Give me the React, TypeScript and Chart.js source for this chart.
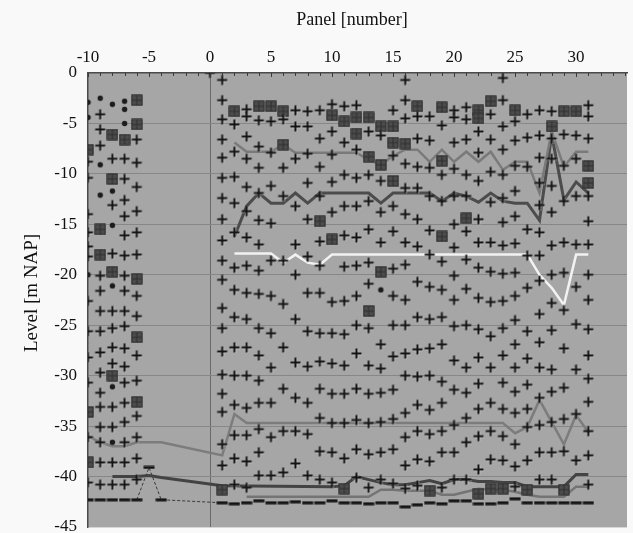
import React, { useEffect, useRef } from 'react';
import { Chart, registerables } from 'chart.js';
Chart.register(...registerables);

// ---------------- DATA ----------------
const xTickLabels = [-10, -5, 0, 5, 10, 15, 20, 25, 30];
const yTickLabels = [0, -5, -10, -15, -20, -25, -30, -35, -40, -45];

// plus markers: [panel, levels]
const crossCols: [number, number[]][] = [
  [-10, [-8.8, -10.4, -14.0, -15.8, -17.2, -18.2, -22.6, -25.6, -28.2, -30.7, -36.1, -40.6]],
  [-9, [-4.1, -5.6, -7.2, -20.1, -21.6, -23.6, -25.6, -27.7, -29.7, -31.7, -33.1, -35.1, -36.6, -38.6, -40.8]],
  [-8, [-8.5, -13.1, -17.9, -23.6, -25.3, -27.2, -28.8, -33.1, -35.1, -38.6, -40.8]],
  [-7, [-8.5, -10.5, -12.6, -14.2, -16.1, -18.1, -20.1, -21.6, -23.6, -25.1, -27.3, -29.1, -30.7, -32.7, -34.6, -36.6, -38.6, -40.8]],
  [-6, [-6.6, -8.9, -11.3, -13.7, -15.8, -18.0, -22.1, -24.1, -28.0, -30.5, -34.0, -36.1, -38.2, -40.3]],
  [0, [0]],
  [1, [-0.7, -2.7, -4.6, -6.6, -8.4, -10.4, -12.4, -14.5, -16.6, -18.6, -20.5, -23.3, -25.3, -27.6, -29.9, -31.8, -33.6, -36.8, -38.9]],
  [2, [-5.1, -7.8, -10.3, -12.9, -15.8, -19.3, -21.5, -24.2, -27.2, -30.0, -32.9, -35.9, -38.2, -40.8]],
  [3, [-3.6, -4.3, -6.3, -8.5, -11.3, -13.7, -16.3, -19.1, -21.8, -24.4, -27.2, -30.0, -33.2, -35.9, -38.5, -41.1]],
  [4, [-4.7, -7.3, -9.4, -11.9, -14.6, -17.0, -19.6, -21.9, -25.3, -28.0, -30.5, -32.7, -35.3, -37.6, -39.9]],
  [5, [-4.8, -7.9, -11.2, -14.9, -18.6, -22.1, -25.8, -29.2, -32.7, -36.1, -39.9]],
  [6, [-4.6, -9.4, -12.2, -18.6, -22.9, -27.2, -31.3, -35.5, -39.6]],
  [7, [-3.7, -5.3, -8.5, -13.2, -17.0, -20.0, -24.4, -28.7, -32.2, -35.5, -38.7]],
  [8, [-3.8, -5.3, -8.0, -10.9, -14.5, -18.2, -21.8, -25.6, -29.1, -32.7, -35.8, -39.9]],
  [9, [-3.7, -6.5, -9.3, -12.2, -16.7, -19.1, -21.8, -25.8, -28.6, -31.3, -34.2, -37.5, -40.3]],
  [10, [-3.1, -5.8, -8.1, -10.8, -13.8, -22.7, -25.8, -28.8, -31.8, -34.7, -37.6, -40.6]],
  [11, [-3.3, -6.9, -10.1, -13.2, -16.1, -19.2, -22.6, -25.9, -29.0, -31.8, -34.7, -38.2]],
  [12, [-3.2, -7.6, -10.4, -13.2, -16.3, -19.1, -22.1, -25.0, -27.8, -31.3, -34.4, -37.3, -40.1]],
  [13, [-5.8, -10.1, -12.7, -15.5, -18.8, -20.9, -25.3, -29.0, -31.8, -34.7, -37.8, -41.1]],
  [14, [-6.2, -10.7, -13.8, -16.8, -26.9, -29.3, -31.7, -34.6, -37.6, -40.3]],
  [15, [-3.7, -8.2, -13.2, -15.7, -19.4, -22.1, -25.0, -28.1, -31.4, -34.3, -37.3, -40.7]],
  [16, [-0.7, -2.7, -4.5, -9.0, -11.4, -14.0, -16.8, -19.0, -22.5, -25.0, -27.8, -30.0, -33.7, -36.1, -38.9, -41.2]],
  [17, [-4.3, -6.5, -9.3, -11.4, -14.5, -17.2, -20.7, -24.2, -27.4, -30.1, -32.9, -35.5, -38.3, -40.9]],
  [18, [-4.3, -6.7, -9.4, -12.2, -15.6, -18.0, -21.2, -24.4, -27.3, -30.0, -33.4, -35.8, -38.5]],
  [19, [-5.2, -10.1, -12.7, -18.7, -21.5, -24.2, -26.9, -30.6, -32.7, -35.5, -37.6, -41.1]],
  [20, [-3.7, -4.4, -6.9, -9.5, -12.2, -15.0, -17.3, -20.1, -22.5, -25.1, -28.5, -31.4, -34.9, -37.6, -40.3]],
  [21, [-3.4, -4.6, -6.6, -10.1, -12.2, -15.7, -18.5, -21.4, -25.0, -29.2, -31.7, -34.2, -36.6, -40.3]],
  [22, [-5.8, -7.9, -10.7, -14.5, -16.8, -19.3, -22.3, -25.4, -28.2, -30.8, -33.3, -36.0, -39.3]],
  [23, [-4.1, -6.6, -9.8, -12.8, -16.8, -19.7, -22.7, -26.1, -29.2, -32.7, -35.5, -38.3]],
  [24, [-0.5, -2.7, -5.3, -7.6, -10.1, -12.4, -14.8, -17.1, -19.9, -22.6, -25.3, -28.0, -30.7, -33.3, -36.0, -38.4]],
  [25, [-4.8, -6.7, -9.2, -11.7, -14.2, -16.9, -19.8, -22.1, -24.5, -26.9, -29.2, -31.6, -33.7, -36.8, -39.0, -41.0]],
  [26, [-4.1, -6.4, -9.3, -15.5, -18.1, -21.3, -25.6, -28.3, -30.9, -33.3, -35.1, -38.4]],
  [27, [-3.7, -6.2, -8.4, -10.9, -13.1, -15.8, -18.1, -20.6, -23.9, -26.7, -29.2, -32.2, -34.9, -37.6, -40.3]],
  [28, [-3.8, -6.5, -8.5, -11.2, -13.8, -17.1, -20.0, -22.8, -25.5, -29.4, -31.6, -34.6, -37.6, -40.3]],
  [29, [-6.1, -9.2, -12.7, -16.8, -19.8, -23.5, -27.3, -31.2, -34.3, -37.5]],
  [30, [-6.2, -8.5, -12.2, -17.0, -21.2, -24.9, -29.4, -33.8, -38.4]],
  [31, [-3.2, -4.3, -6.5, -12.2, -14.7, -17.0, -20.0, -22.5, -25.4, -28.0, -30.3, -32.6, -35.5, -37.9, -40.8]],
];

// square markers
const squareCols: [number, number[]][] = [
  [-10, [-7.6, -33.6, -38.6]],
  [-9, [-15.5, -18.0]],
  [-8, [-6.1, -10.5, -19.7, -30.0]],
  [-7, [-6.6]],
  [-6, [-2.7, -5.1, -20.4, -26.2, -32.6]],
  [1, [-41.3]],
  [2, [-3.8]],
  [4, [-3.3]],
  [5, [-3.3]],
  [6, [-3.8, -7.1]],
  [9, [-14.7]],
  [10, [-4.2, -16.5]],
  [11, [-4.8, -41.2]],
  [12, [-4.4, -6.0]],
  [13, [-4.4, -8.3, -23.6]],
  [14, [-5.3, -9.1, -19.7]],
  [15, [-5.3, -6.9, -10.7]],
  [16, [-7.0]],
  [17, [-3.3]],
  [18, [-41.4]],
  [19, [-3.4, -8.7, -16.2]],
  [21, [-14.4]],
  [22, [-3.7, -4.5, -41.7]],
  [23, [-2.8, -41.2]],
  [24, [-41.2]],
  [25, [-3.7]],
  [26, [-41.3]],
  [28, [-5.3]],
  [29, [-3.8, -41.3]],
  [30, [-3.8]],
  [31, [-9.2, -10.9]],
];

// small dots
const dotCols: [number, number[]][] = [
  [-10, [-2.9, -4.4, -20.0]],
  [-9, [-2.5, -9.1, -12.1]],
  [-8, [-3.1, -11.7, -15.1, -21.1, -31.1, -36.6]],
  [-7, [-2.8, -3.6, -5.0]],
  [14, [-21.5]],
];

// dash markers (bottom level)
const dashPanels = [-10, -9, -8, -7, -6, -5, -4, 1, 2, 3, 4, 5, 6, 7, 8, 9, 10, 11, 12, 13, 14, 15, 16, 17, 18, 19, 20, 21, 22, 23, 24, 25, 26, 27, 28, 29, 30, 31];
const dashLevels = [-42.3, -42.3, -42.3, -42.3, -42.3, -39.1, -42.3, -42.6, -42.7, -42.6, -42.4, -42.6, -42.6, -42.5, -42.6, -42.6, -42.4, -42.6, -42.6, -42.7, -42.6, -42.6, -43.0, -42.8, -42.6, -42.7, -42.4, -42.4, -42.7, -42.7, -42.6, -42.2, -42.6, -42.6, -42.6, -42.6, -42.6, -42.6];

// dashed connector
const connector: [number, number][] = [[-6, -42.3], [-5, -39.1], [-4, -42.3], [1, -42.6]];

// lines
const lineUpperGray: [number, number][] = [
  [2, -6.9], [3, -7.8], [4, -7.8], [5, -7.8], [6, -7.1], [7, -7.9], [8, -7.9], [9, -7.9], [10, -7.9], [11, -7.9], [12, -7.9],
  [13, -8.6], [14, -9.1], [15, -8.2], [16, -7.6], [17, -7.6], [18, -8.8], [19, -7.6], [20, -8.8], [21, -7.8], [22, -8.8],
  [23, -7.8], [24, -9.6], [25, -8.8], [26, -8.8], [27, -11.9], [28, -5.8], [29, -9.3], [30, -7.8], [31, -7.8],
];
const lineUpperDark: [number, number][] = [
  [2, -16.2], [3, -13.2], [4, -11.9], [5, -12.9], [6, -12.9], [7, -11.9], [8, -12.9], [9, -11.9], [10, -11.9], [11, -11.9],
  [12, -11.9], [13, -11.9], [14, -12.9], [15, -11.9], [16, -11.9], [17, -11.9], [18, -11.9], [19, -12.7], [20, -11.9],
  [21, -12.2], [22, -12.8], [23, -11.9], [24, -12.7], [25, -12.9], [26, -12.9], [27, -14.6], [28, -6.1], [29, -12.6], [30, -10.8], [31, -11.9],
];
const lineWhite: [number, number][] = [
  [2, -17.9], [5, -17.9], [6, -18.8], [7, -18.0], [8, -18.8], [9, -19.0], [10, -18.0], [26, -18.0], [27, -20.0], [28, -21.3], [29, -23.0], [30, -18.0], [31, -18.0],
];
const lineMidGray: [number, number][] = [
  [-10, -36.0], [-9, -36.6], [-8, -37.0], [-7, -37.0], [-6, -36.6], [-4, -36.6], [1, -37.9], [2, -33.8], [3, -34.7],
  [24, -34.7], [25, -35.7], [26, -35.1], [27, -32.4], [28, -34.6], [29, -36.8], [30, -33.9], [31, -35.6],
];
const lineLowerDark: [number, number][] = [
  [-8, -40.0], [-6, -40.0], [-5, -39.9], [-4, -40.1], [1, -40.9], [10, -41.0], [11, -40.9], [12, -40.0], [13, -40.3], [14, -40.6],
  [15, -40.8], [16, -40.8], [17, -40.6], [18, -40.4], [19, -40.7], [20, -40.3], [21, -40.3], [22, -40.5], [23, -40.5],
  [24, -40.6], [25, -40.6], [26, -41.0], [27, -41.0], [28, -41.0], [29, -41.0], [30, -39.8], [31, -39.8],
];
const lineLowerGray: [number, number][] = [
  [3, -42.0], [13, -42.0], [14, -41.3], [15, -41.3], [16, -41.4], [17, -41.4], [18, -41.4], [19, -41.8], [20, -41.8],
  [21, -41.5], [22, -41.2], [23, -41.3], [24, -41.3], [25, -41.5], [26, -41.8], [27, -42.0], [28, -42.0], [29, -42.0], [30, -41.0], [31, -41.0],
];

// ---------------- HELPERS ----------------
const colPts = (cols: [number, number[]][]) => cols.flatMap(([x, ys]) => ys.map((y) => ({ x, y })));
const pairPts = (arr: [number, number][]) => arr.map(([x, y]) => ({ x, y }));

function mk(w: number, h: number, draw: (g: CanvasRenderingContext2D) => void) {
  const c = document.createElement('canvas');
  c.width = w; c.height = h;
  draw(c.getContext('2d')!);
  return c;
}

const SERIF = '"Liberation Serif", "Times New Roman", serif';

export default function App() {
  const ref = useRef<HTMLCanvasElement>(null);
  useEffect(() => {
    const plus = mk(13, 13, (g) => {
      g.lineCap = 'butt';
      g.strokeStyle = 'rgba(228,228,228,0.55)';
      g.lineWidth = 1.6;
      g.beginPath(); g.moveTo(2, 7.5); g.lineTo(12, 7.5); g.moveTo(7.5, 2); g.lineTo(7.5, 12); g.stroke();
      g.strokeStyle = '#141414';
      g.lineWidth = 2;
      g.beginPath(); g.moveTo(1.5, 6.5); g.lineTo(11.5, 6.5); g.moveTo(6.5, 1.5); g.lineTo(6.5, 11.5); g.stroke();
    });
    const square = mk(12, 12, (g) => {
      g.fillStyle = '#4c4c4c'; g.fillRect(0.5, 0.5, 11, 11);
      g.strokeStyle = '#2e2e2e'; g.lineWidth = 1;
      g.strokeRect(1, 1, 10, 10);
      g.beginPath(); g.moveTo(6, 1); g.lineTo(6, 11); g.moveTo(1, 6); g.lineTo(11, 6); g.stroke();
    });
    const dot = mk(7, 7, (g) => {
      g.fillStyle = '#1c1c1c'; g.beginPath(); g.arc(3.5, 3.5, 2.7, 0, Math.PI * 2); g.fill();
    });
    const dash = mk(12, 4, (g) => {
      g.fillStyle = '#141414'; g.fillRect(0.5, 0.5, 11, 3);
    });

    const lineDs = (data: [number, number][], color: string, width: number) => ({
      data: pairPts(data), showLine: true, borderColor: color, borderWidth: width, pointRadius: 0,
      tension: 0, fill: false, borderJoinStyle: 'miter' as const,
    });

    const bgPlugin = {
      id: 'bg',
      beforeDraw(chart: any) {
        const { ctx, chartArea: a } = chart;
        ctx.save();
        ctx.fillStyle = '#f9f9f9';
        ctx.fillRect(0, 0, chart.width, chart.height);
        ctx.fillStyle = '#a6a6a6';
        ctx.fillRect(a.left, a.top, a.right - a.left, a.bottom - a.top);
        ctx.restore();
      },
      afterDraw(chart: any) {
        const { ctx, chartArea: a, scales } = chart;
        ctx.save();
        ctx.strokeStyle = '#3a3a3a';
        ctx.lineWidth = 1;
        for (let v = -10; v <= 34; v++) {
          const px = Math.round(scales.x.getPixelForValue(v)) + 0.5;
          ctx.beginPath(); ctx.moveTo(px, a.top); ctx.lineTo(px, a.top + (v % 5 === 0 ? 4 : 3)); ctx.stroke();
        }
        ctx.fillStyle = '#111';
        ctx.textAlign = 'center';
        ctx.textBaseline = 'middle';
        ctx.font = '18px ' + SERIF;
        ctx.fillText('Panel [number]', 352, 20);
        ctx.translate(32, 293);
        ctx.rotate(-Math.PI / 2);
        ctx.font = '19px ' + SERIF;
        ctx.fillText('Level [m NAP]', 0, 0);
        ctx.restore();
      },
    };

    const chart = new Chart(ref.current!, {
      type: 'scatter',
      data: {
        datasets: [
          { data: colPts(crossCols), pointStyle: plus as any, pointRadius: 5 },
          { data: colPts(squareCols), pointStyle: square as any, pointRadius: 5 },
          { data: colPts(dotCols), pointStyle: dot as any, pointRadius: 3 },
          { data: dashPanels.map((x, i) => ({ x, y: dashLevels[i] })), pointStyle: dash as any, pointRadius: 5 },
          { ...lineDs(connector, '#3a3a3a', 1), borderDash: [3, 2] },
          lineDs(lineWhite, '#f2f2f2', 2.5),
          lineDs(lineUpperGray, '#7a7a7a', 2.5),
          lineDs(lineUpperDark, '#4c4c4c', 3),
          lineDs(lineMidGray, '#7c7c7c', 2.5),
          lineDs(lineLowerGray, '#747474', 2.5),
          lineDs(lineLowerDark, '#434343', 3),
        ] as any,
      },
      options: {
        animation: false,
        responsive: false,
        devicePixelRatio: 1,
        layout: { padding: { left: 0, right: 0, top: 0, bottom: 5 } },
        plugins: { legend: { display: false }, tooltip: { enabled: false } },
        scales: {
          x: {
            type: 'linear',
            position: 'top',
            min: -10,
            max: 34.17,
            afterFit: (s: any) => { s.height = 73; s.paddingLeft = 0; s.paddingRight = 0; },
            afterBuildTicks: (s: any) => {
              const t: any[] = [];
              for (let v = -10; v <= 34; v++) t.push({ value: v });
              s.ticks = t;
            },
            ticks: {
              autoSkip: false,
              maxRotation: 0,
              padding: 5,
              color: '#111',
              font: { family: SERIF, size: 17 },
              callback: (v: any) => (xTickLabels.includes(Number(v)) ? String(v) : ''),
            },
            grid: {
              drawTicks: false,
              lineWidth: 1,
              color: (c: any) => (c.tick && c.tick.value === 0 ? '#6a6a6a' : 'rgba(0,0,0,0)'),
            },
            border: { display: true, color: '#4a4a4a', width: 1.5 },
          },
          y: {
            type: 'linear',
            min: -45,
            max: 0,
            afterFit: (s: any) => { s.width = 88; s.paddingTop = 0; s.paddingBottom = 0; },
            afterBuildTicks: (s: any) => { s.ticks = yTickLabels.map((v) => ({ value: v })); },
            ticks: {
              padding: 11,
              color: '#111',
              font: { family: SERIF, size: 17 },
              callback: (v: any) => String(v),
            },
            grid: {
              drawTicks: false,
              lineWidth: 1,
              color: (c: any) => {
                const v = c.tick && c.tick.value;
                if (v === 0) return 'rgba(0,0,0,0)';
                if (v === -45) return '#d6d6d6';
                return '#878787';
              },
            },
            border: { display: true, color: '#4a4a4a', width: 1.5 },
          },
        },
      } as any,
      plugins: [bgPlugin],
    });
    return () => chart.destroy();
  }, []);

  return (
    <div style={{ position: 'fixed', left: 0, top: 0, width: 633, height: 533, background: '#f9f9f9' }}>
      <canvas ref={ref} width={633} height={533} style={{ display: 'block', width: 633, height: 533 }} />
    </div>
  );
}
